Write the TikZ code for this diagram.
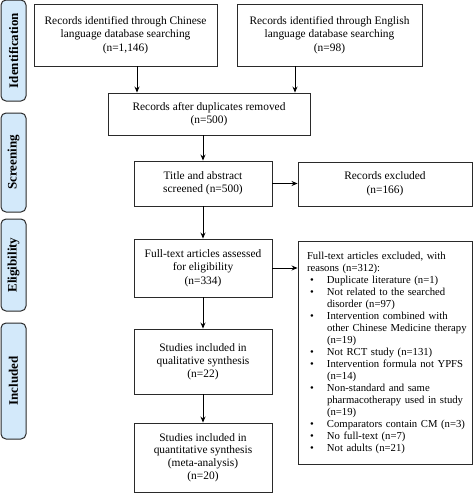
\documentclass[tikz,border=0pt]{standalone}
\usepackage{fontspec}
\setmainfont{Liberation Serif}
\usetikzlibrary{arrows.meta}
\definecolor{sideblue}{HTML}{D3E9FA}
\definecolor{edge}{HTML}{2A2A2A}
\newcommand\pbul[1]{\mbox{\makebox[20pt][l]{\hspace{3pt}\textbullet}#1}}
\newcommand\pind[1]{\mbox{\hspace{20pt}#1}}
\begin{document}
\begin{tikzpicture}[x=1pt,y=-1pt,
  box/.style={draw=edge, line width=0.9pt, fill=white, align=center, inner sep=2pt,
    font=\fontsize{11.4}{13.5}\selectfont},
  side/.style={draw=edge, line width=1pt, fill=sideblue, rounded corners=5pt, rotate=90,
    font=\fontsize{13}{15}\selectfont\bfseries, inner sep=0pt, minimum height=25pt},
  arr/.style={draw=black, line width=0.9pt, -{Stealth[length=6pt,width=5pt]}}]
\useasboundingbox (0,0) rectangle (473,493);

% side labels
\node[side, minimum width=101pt] (sid) at (13.5,50.5) {Identification};
\node[side, minimum width=99pt] (sscr) at (13.5,162.5) {Screening};
\node[side, minimum width=92pt] (sel) at (13.5,265) {Eligibility};
\node[side, minimum width=116pt] (sinc) at (13.5,381) {Included};

% boxes
\node[box, minimum width=183pt, minimum height=62pt] (chin) at (125.5,35)
  {Records identified through Chinese\\language database searching\\(n=1,146)};
\node[box, minimum width=185pt, minimum height=62pt] (eng) at (329.5,35)
  {Records identified through English\\language database searching\\(n=98)};
\node[box, minimum width=202pt, minimum height=42pt] (dup) at (209,114)
  {Records after duplicates removed\\(n=500)};
\node[box, minimum width=138pt, minimum height=45pt] (title) at (203,183.5)
  {Title and abstract\\screened (n=500)};
\node[box, minimum width=174pt, minimum height=44pt] (recex) at (385,184)
  {Records excluded\\(n=166)};
\node[box, minimum width=138pt, minimum height=58pt] (full) at (203,268)
  {Full-text articles assessed\\for eligibility\\(n=334)};
\node[box, text width=156pt, align=left, minimum height=223pt, inner xsep=9pt,
  font=\fontsize{10.7}{12}\selectfont] (ftex) at (385,352.5)
  {\mbox{Full-text articles excluded, with}\\
   \mbox{reasons (n=312):}\\
   \pbul{Duplicate literature (n=1)}\\
   \pbul{Not related to the searched}\\
   \pind{disorder (n=97)}\\
   \pbul{Intervention combined with}\\
   \pind{other Chinese Medicine therapy}\\
   \pind{(n=19)}\\
   \pbul{Not RCT study (n=131)}\\
   \pbul{Intervention formula not YPFS}\\
   \pind{(n=14)}\\
   \pbul{Non-standard and same}\\
   \pind{pharmacotherapy used in study}\\
   \pind{(n=19)}\\
   \pbul{Comparators contain CM (n=3)}\\
   \pbul{No full-text (n=7)}\\
   \pbul{Not adults (n=21)}};
\node[box, minimum width=138pt, minimum height=65pt, font=\fontsize{11.4}{13}\selectfont] (qual) at (203,361.5)
  {Studies included in\\qualitative synthesis\\(n=22)};
\node[box, minimum width=138pt, minimum height=69pt, font=\fontsize{11.4}{12.6}\selectfont] (quant) at (203,457.5)
  {Studies included in\\quantitative synthesis\\(meta-analysis)\\(n=20)};

% connectors
\coordinate (c1) at ([xshift=11.5pt]chin.south);
\coordinate (c2) at ([xshift=-34.5pt]eng.south);
\draw[arr] (c1) -- (c1 |- dup.north);
\draw[arr] (c2) -- (c2 |- dup.north);
\draw[arr] (title.north |- dup.south) -- (title.north);
\draw[arr] (title.east) -- (title.east -| recex.west);
\draw[arr] (title.south) -- (full.north);
\draw[arr] (full.east) -- (full.east -| ftex.west);
\draw[arr] (full.south) -- (qual.north);
\draw[arr] (qual.south) -- (quant.north);
\end{tikzpicture}
\end{document}
